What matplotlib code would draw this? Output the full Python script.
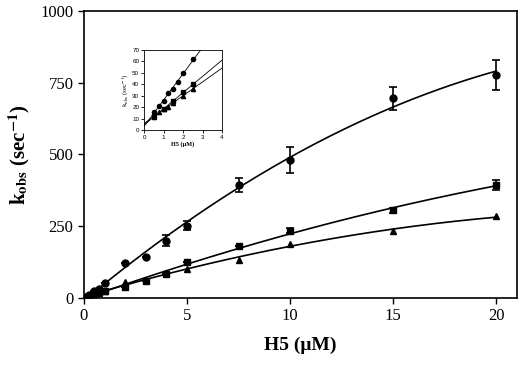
import numpy as np
import matplotlib.pyplot as plt

plt.rcParams['font.family'] = ['Liberation Serif', 'DejaVu Serif']
plt.rcParams['mathtext.fontset'] = 'stix'

# main plot data (H5 in uM, kobs in sec^-1)
x_circ = [0.1, 0.25, 0.5, 0.75, 1, 2, 3, 4, 5, 7.5, 10, 15, 20]
y_circ = [5, 12, 25, 30, 51, 121, 144, 200, 252, 393, 482, 696, 776]
e_circ = [0, 0, 0, 0, 0, 0, 0, 20, 15, 25, 45, 40, 52]

x_sq = [0.1, 0.25, 0.5, 0.75, 1, 2, 3, 4, 5, 7.5, 10, 15, 20]
y_sq = [3, 8, 15, 20, 25, 37, 59, 84, 124, 180, 235, 305, 393]
e_sq = [0, 0, 0, 0, 0, 0, 0, 0, 0, 0, 8, 8, 18]

x_tri = [0.1, 0.25, 0.5, 0.75, 1, 2, 4, 5, 7.5, 10, 15, 20]
y_tri = [3, 7, 14, 18, 24, 54, 88, 101, 133, 189, 234, 284]

# inset data
ix_circ = [0.5, 0.75, 1, 1.25, 1.5, 1.75, 2, 2.5]
iy_circ = [16, 21, 25, 32, 36, 42, 50, 62]
ix_sq = [0.5, 1, 1.5, 2, 2.5]
iy_sq = [12, 18, 25, 33, 40]
ix_tri = [0.5, 0.75, 1, 1.25, 1.5, 2, 2.5]
iy_tri = [11, 16, 18, 20, 24, 30, 36]

fig = plt.figure(figsize=(5.2, 3.65), dpi=100)
ax = fig.add_axes([0.1615, 0.1836, 0.8325, 0.7864])

xs = np.linspace(0, 20, 200)
for x, y in [(x_circ, y_circ), (x_sq, y_sq), (x_tri, y_tri)]:
    p = np.polyfit(x, y, 2)
    ax.plot(xs, np.polyval(p, xs), color='black', lw=1.2)

ax.errorbar(x_circ, y_circ, yerr=e_circ, fmt='o', color='black', ms=5,
            capsize=3, elinewidth=1.2, capthick=1.2)
ax.errorbar(x_sq, y_sq, yerr=e_sq, fmt='s', color='black', ms=4.5,
            capsize=3, elinewidth=1.2, capthick=1.2)
ax.plot(x_tri, y_tri, '^', color='black', ms=4.5)

ax.set_xlim(0, 21)
ax.set_ylim(0, 1000)
ax.set_xticks([0, 5, 10, 15, 20])
ax.set_yticks([0, 250, 500, 750, 1000])
ax.tick_params(direction='out', length=4, width=1, labelsize=12)
for s in ax.spines.values():
    s.set_linewidth(1.2)
ax.set_xlabel('H5 (\u03bcM)', fontsize=14, fontweight='bold', labelpad=9)
ax.set_ylabel('k$_{\\mathbf{obs}}$ (sec$^{\\mathbf{-1}}$)', fontsize=15,
              fontweight='bold', labelpad=6)

# inset
ins = fig.add_axes([0.277, 0.644, 0.150, 0.219])
xi = np.linspace(0, 4, 50)
for x, y, m in [(ix_circ, iy_circ, 'o'), (ix_sq, iy_sq, 's'), (ix_tri, iy_tri, '^')]:
    p = np.polyfit(x, y, 1)
    ins.plot(xi, np.polyval(p, xi), color='black', lw=0.6)
    ins.plot(x, y, m, color='black', ms=3)
ins.set_xlim(0, 4)
ins.set_ylim(0, 70)
ins.set_xticks([0, 1, 2, 3, 4])
ins.set_yticks(range(0, 71, 10))
ins.tick_params(direction='out', length=2, width=0.6, labelsize=4.5, pad=1.5)
for lab in ins.get_xticklabels() + ins.get_yticklabels():
    lab.set_family(['Liberation Sans', 'DejaVu Sans'])
for s in ins.spines.values():
    s.set_linewidth(0.6)
ins.set_xlabel('H5 (\u03bcM)', fontsize=4.5, fontweight='bold', labelpad=1)
ins.set_ylabel('k$_{\\mathrm{obs}}$ (sec$^{\\mathrm{-1}}$)', fontsize=5, labelpad=1)

fig.savefig('out.png', dpi=100)
